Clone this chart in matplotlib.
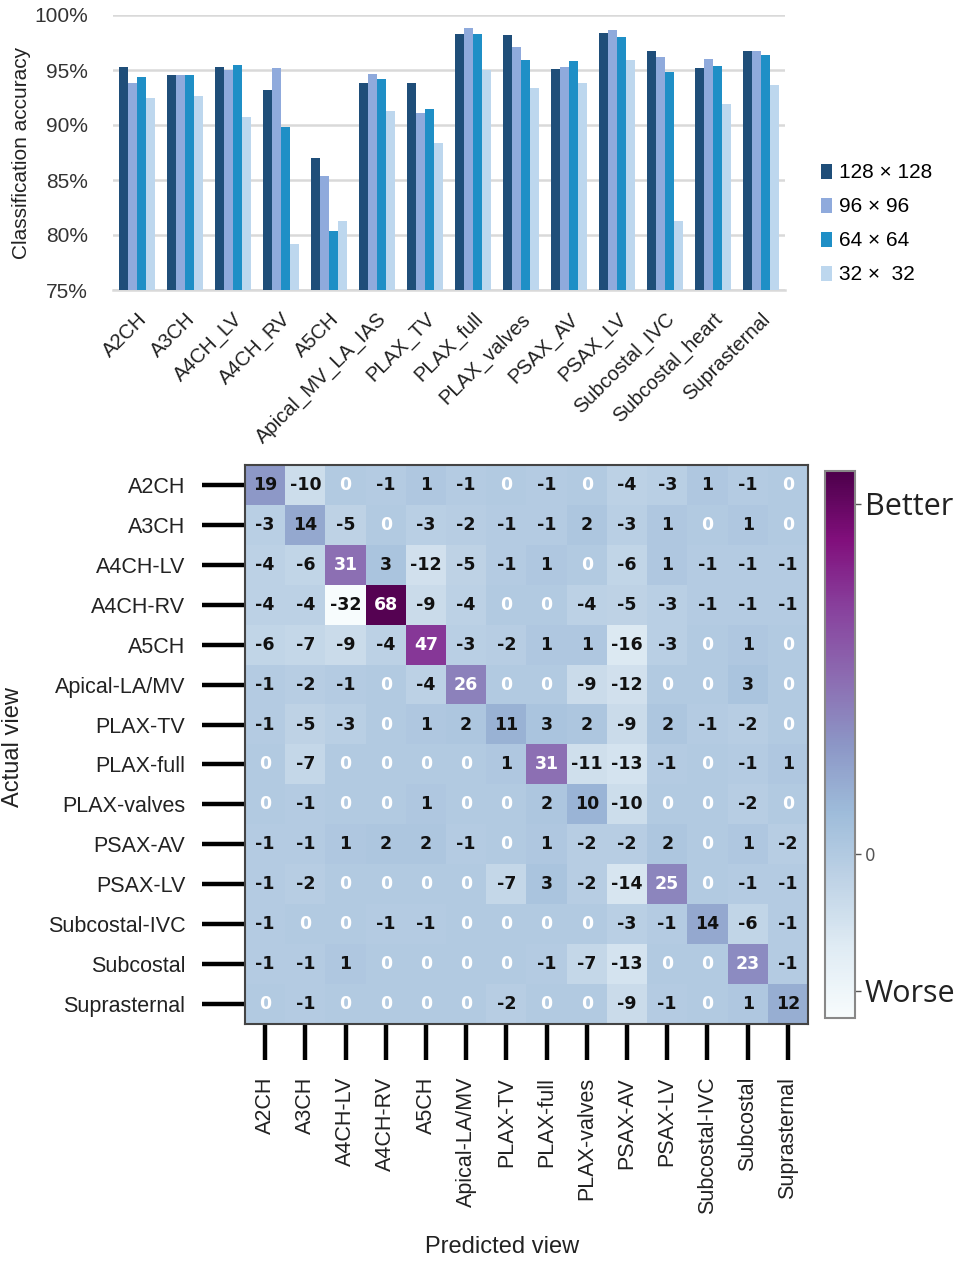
import numpy as np
import matplotlib
matplotlib.use("Agg")
import matplotlib.pyplot as plt

# ---- data: bar chart (classification accuracy per view, %) ----
views_bar = ['A2CH', 'A3CH', 'A4CH_LV', 'A4CH_RV', 'A5CH', 'Apical_MV_LA_IAS',
             'PLAX_TV', 'PLAX_full', 'PLAX_valves', 'PSAX_AV', 'PSAX_LV',
             'Subcostal_IVC', 'Subcostal_heart', 'Suprasternal']
res_labels = ['128 × 128', '96 × 96', '64 × 64', '32 ×  32']
acc_128 = [95.3, 94.55, 95.3, 93.2, 87.0, 93.8, 93.85, 98.3, 98.15, 95.05, 98.4, 96.7, 95.2, 96.75]
acc_96 = [93.8, 94.55, 95.0, 95.2, 85.4, 94.6, 91.1, 98.85, 97.1, 95.3, 98.6, 96.2, 96.0, 96.75]
acc_64 = [94.4, 94.55, 95.5, 89.85, 80.4, 94.15, 91.5, 98.3, 95.9, 95.8, 98.0, 94.85, 95.4, 96.4]
acc_32 = [92.5, 92.6, 90.75, 79.2, 81.3, 91.3, 88.4, 95.0, 93.4, 93.8, 95.9, 81.3, 91.9, 93.6]

# ---- data: difference matrix (actual x predicted) ----
views_hm = ['A2CH', 'A3CH', 'A4CH-LV', 'A4CH-RV', 'A5CH', 'Apical-LA/MV', 'PLAX-TV',
            'PLAX-full', 'PLAX-valves', 'PSAX-AV', 'PSAX-LV', 'Subcostal-IVC',
            'Subcostal', 'Suprasternal']
diff = [
    [19, -10, 0, -1, 1, -1, 0, -1, 0, -4, -3, 1, -1, 0],
    [-3, 14, -5, 0, -3, -2, -1, -1, 2, -3, 1, 0, 1, 0],
    [-4, -6, 31, 3, -12, -5, -1, 1, 0, -6, 1, -1, -1, -1],
    [-4, -4, -32, 68, -9, -4, 0, 0, -4, -5, -3, -1, -1, -1],
    [-6, -7, -9, -4, 47, -3, -2, 1, 1, -16, -3, 0, 1, 0],
    [-1, -2, -1, 0, -4, 26, 0, 0, -9, -12, 0, 0, 3, 0],
    [-1, -5, -3, 0, 1, 2, 11, 3, 2, -9, 2, -1, -2, 0],
    [0, -7, 0, 0, 0, 0, 1, 31, -11, -13, -1, 0, -1, 1],
    [0, -1, 0, 0, 1, 0, 0, 2, 10, -10, 0, 0, -2, 0],
    [-1, -1, 1, 2, 2, -1, 0, 1, -2, -2, 2, 0, 1, -2],
    [-1, -2, 0, 0, 0, 0, -7, 3, -2, -14, 25, 0, -1, -1],
    [-1, 0, 0, -1, -1, 0, 0, 0, 0, -3, -1, 14, -6, -1],
    [-1, -1, 1, 0, 0, 0, 0, -1, -7, -13, 0, 0, 23, -1],
    [0, -1, 0, 0, 0, 0, -2, 0, 0, -9, -1, 0, 1, 12],
]

W, H = 964, 1262
fig = plt.figure(figsize=(W / 100, H / 100), dpi=100)
plt.rcParams['font.family'] = ['Liberation Sans', 'DejaVu Sans']


def box(x0, y0, x1, y1):
    # pixel box (top-left origin) -> figure fraction
    return [x0 / W, 1 - y1 / H, (x1 - x0) / W, (y1 - y0) / H]


# ---------------- bar chart ----------------
ax = fig.add_axes(box(113, 15, 785, 290))
colors = ['#1f4e79', '#8faadc', '#1f8fc6', '#bdd7ee']
series = [acc_128, acc_96, acc_64, acc_32]
x = np.arange(len(views_bar))
bw = 0.1875
for i, (vals, c, lab) in enumerate(zip(series, colors, res_labels)):
    ax.bar(x + (i - 1.5) * bw, vals, width=bw, color=c, label=lab, zorder=3)

ax.set_ylim(75, 100)
ax.set_xlim(-0.5, len(views_bar) - 0.5)
ax.set_yticks(np.arange(75, 101, 5))
ax.set_yticklabels([f'{v}%' for v in range(75, 101, 5)], fontsize=15, color='#333333')
ax.yaxis.grid(True, color='#d9d9d9', linewidth=1.8, zorder=0)
ax.tick_params(axis='y', length=0, pad=18)
ax.tick_params(axis='x', length=0, pad=14)
for s in ['top', 'right', 'left']:
    ax.spines[s].set_visible(False)
ax.spines['bottom'].set_color('#d9d9d9')
ax.spines['bottom'].set_linewidth(1.8)
ax.set_xticks(x)
ax.set_xticklabels(views_bar, rotation=45, ha='right', rotation_mode='anchor',
                   fontsize=14.5, color='#222222')
ax.set_ylabel('Classification accuracy', fontsize=15, color='#222222')
ax.yaxis.set_label_coords(-0.122, 0.5)
ax.legend(loc='center left', bbox_to_anchor=(1.025, 0.24), frameon=False,
          fontsize=15, handlelength=0.55, handleheight=0.7, handletextpad=0.35,
          labelspacing=0.72)

# ---------------- heatmap ----------------
hm = fig.add_axes(box(245, 465, 808, 1024))
data = np.array(diff)
vmin, vmax = -30, 70
im = hm.imshow(data, cmap='BuPu', vmin=vmin, vmax=vmax, aspect='auto')
for r in range(data.shape[0]):
    for c in range(data.shape[1]):
        v = data[r, c]
        col = 'white' if (v == 0 or v > 20) else '#111111'
        hm.text(c, r, str(v), ha='center', va='center', fontsize=12.5,
                fontweight='bold', color=col, family='DejaVu Sans')

hm.set_xticks(np.arange(len(views_hm)))
hm.set_yticks(np.arange(len(views_hm)))
hm.set_xticklabels(views_hm, rotation=90, fontsize=15.5, color='#222222')
hm.set_yticklabels(views_hm, fontsize=15.5, color='#222222')
hm.tick_params(axis='y', length=31, width=3.2, pad=12, color='black')
hm.tick_params(axis='x', length=26, width=3.2, pad=12, color='black')
for s in hm.spines.values():
    s.set_color('#444444')
    s.set_linewidth(1.5)
fig.text(13 / W, 1 - 747 / H, 'Actual view', fontsize=17, color='#222222',
         rotation=90, ha='center', va='center')
fig.text(502 / W, 1 - 1247 / H, 'Predicted view', fontsize=17, color='#222222',
         ha='center', va='center')

# ---------------- colorbar ----------------
cax = fig.add_axes(box(825, 471, 855, 1018))
cb = fig.colorbar(im, cax=cax)
cb.outline.set_edgecolor('#888888')
cb.outline.set_linewidth(1.5)
cb.set_ticks([-25, 0, 64])
cb.set_ticklabels(['Worse', '0', 'Better'])
cax.tick_params(length=4, width=1, color='#555555', pad=3)
for t in cax.get_yticklabels():
    if t.get_text() == '0':
        t.set_fontsize(12)
        t.set_color('#555555')
        t.set_family('DejaVu Sans')
    else:
        t.set_fontsize(22)
        t.set_color('#222222')
        t.set_family('Open Sans')

fig.savefig('out.png', dpi=100)
